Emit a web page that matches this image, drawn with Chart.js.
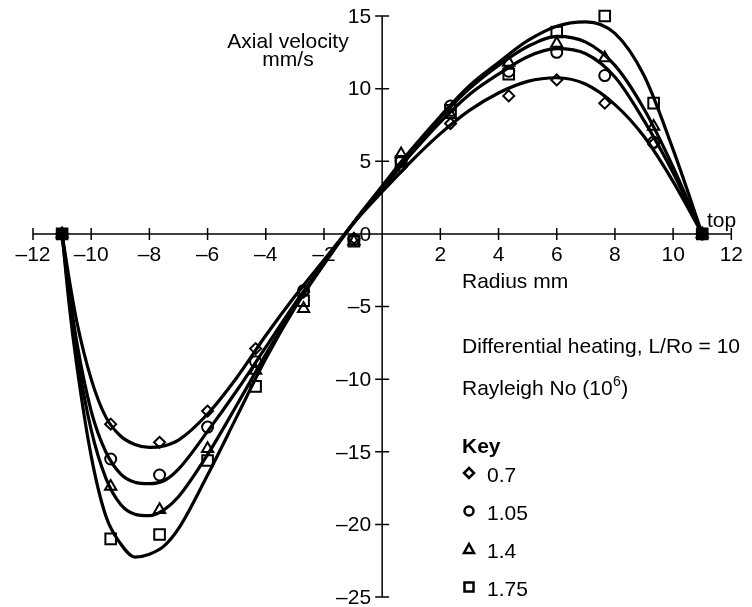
<!DOCTYPE html>
<html>
<head>
<meta charset="utf-8">
<script src="https://cdn.jsdelivr.net/npm/chart.js@4.4.1/dist/chart.umd.min.js"></script>
<style>
html, body { margin: 0; padding: 0; background: #fff; }
</style>
</head>
<body>
<canvas id="velocityChart" width="752" height="607"></canvas>
<script>
// measured radii (mm) of the data points
const radiusPts = [-11, -9.33, -7.65, -6.0, -4.35, -2.7, -0.97, 0.65, 2.35, 4.35, 6.0, 7.65, 9.33, 11];
// axial velocity (mm/s) for each Rayleigh number (10^6)
const vel07  = [0, -13.1, -14.35, -12.2, -7.9, -4.0, -0.3, 4.6, 7.6, 9.5, 10.6, 9.0, 6.2, 0];
const vel105 = [0, -15.5, -16.6, -13.3, -8.8, -3.9, -0.4, 5.0, 8.8, 11.2, 12.5, 10.9, 6.3, 0];
const vel14  = [0, -17.4, -19.0, -14.8, -9.4, -5.15, -0.5, 5.5, 8.2, 11.8, 13.1, 12.1, 7.4, 0];
const vel175 = [0, -21.0, -20.7, -15.6, -10.5, -4.6, -0.5, 5.0, 8.5, 11.0, 13.9, 15.0, 9.0, 0];

// fitted curves
const curveX   = [-11, -10.75, -10.5, -10, -9.5, -9, -8.5, -8, -7.5, -7, -6, -5, -4, -3, -2, -1, 0, 1, 2, 3, 4, 5, 6, 7, 8, 9, 10, 11];
const curve07  = [0, -3.2, -6.0, -10.0, -12.6, -13.9, -14.5, -14.7, -14.6, -14.2, -12.4, -9.9, -7.0, -4.3, -1.8, 0.7, 2.9, 5.0, 6.9, 8.5, 9.7, 10.5, 10.75, 10.3, 8.9, 6.7, 3.6, 0];
const curve105 = [0, -4.0, -7.4, -12.2, -15.0, -16.5, -17.1, -17.2, -17.0, -16.2, -13.6, -10.8, -7.8, -4.8, -2.0, 0.7, 3.1, 5.5, 7.7, 9.6, 11.0, 12.2, 12.75, 12.4, 10.8, 7.8, 4.2, 0];
const curve14  = [0, -4.5, -8.2, -13.5, -16.8, -18.6, -19.3, -19.4, -19.0, -18.1, -15.2, -11.8, -8.3, -5.0, -2.0, 0.7, 3.2, 5.7, 8.0, 10.0, 11.6, 12.9, 13.6, 13.2, 11.6, 8.6, 4.6, 0];
const curve175 = [0, -5.0, -9.0, -15.3, -19.4, -21.3, -22.25, -22.05, -21.5, -20.3, -16.6, -12.6, -8.6, -5.1, -2.1, 0.75, 3.3, 5.8, 8.1, 10.2, 11.8, 13.3, 14.3, 14.6, 13.8, 10.9, 5.8, 0];

const keyLabels = ['0.7', '1.05', '1.4', '1.75'];
const keyStyles = ['rectRot', 'circle', 'triangle', 'rect'];

const FONT = '"Liberation Sans", Arial, Helvetica, sans-serif';
Chart.defaults.font.family = FONT;
Chart.defaults.font.size = 21;
Chart.defaults.color = '#000';

function dash(v) {
    return String(v).replace('-', '\u2013');
}

function markers(label, vals, style, radius, fillEnds) {
    return {
        type: 'scatter',
        label: label,
        data: radiusPts.map((r, i) => ({x: r, y: vals[i]})),
        pointStyle: style,
        pointRadius: radius,
        borderColor: '#000',
        borderWidth: 2,
        backgroundColor: (c) => (fillEnds && c.raw && Math.abs(c.raw.x) === 11) ? '#000' : 'rgba(0,0,0,0)',
        showLine: false,
        clip: false,
        order: 0
    };
}

function curve(label, vals) {
    return {
        type: 'line',
        label: label,
        data: curveX.map((r, i) => ({x: r, y: vals[i]})),
        borderColor: '#000',
        borderWidth: 3.2,
        pointRadius: 0,
        fill: false,
        cubicInterpolationMode: 'monotone',
        order: 1
    };
}

const axesAndText = {
    id: 'axesAndText',
    beforeDatasetsDraw(chart) {
        const {ctx, scales: {x, y}} = chart;
        const x0 = x.getPixelForValue(0), y0 = y.getPixelForValue(0);
        ctx.save();
        ctx.strokeStyle = '#000';
        ctx.lineWidth = 1.5;
        ctx.beginPath();
        ctx.moveTo(x.getPixelForValue(-12), y0);
        ctx.lineTo(x.getPixelForValue(12), y0);
        ctx.moveTo(x0, y.getPixelForValue(15));
        ctx.lineTo(x0, y.getPixelForValue(-25));
        x.ticks.forEach(t => {
            if (t.value === 0) return;
            const px = x.getPixelForValue(t.value);
            ctx.moveTo(px, y0 - 6);
            ctx.lineTo(px, y0 + 6);
        });
        y.ticks.forEach(t => {
            if (t.value === 0) return;
            const py = y.getPixelForValue(t.value);
            ctx.moveTo(x0 - 7, py);
            ctx.lineTo(x0 + 7, py);
        });
        ctx.stroke();

        // y tick labels, right aligned left of the axis
        ctx.fillStyle = '#000';
        ctx.font = '21px ' + FONT;
        ctx.textAlign = 'right';
        ctx.textBaseline = 'middle';
        y.ticks.forEach(t => {
            ctx.fillText(dash(t.value), x0 - 11, y.getPixelForValue(t.value) + 1);
        });
        ctx.restore();
    },
    afterDraw(chart) {
        const ctx = chart.ctx;
        ctx.save();
        ctx.fillStyle = '#000';
        ctx.font = '21px ' + FONT;
        ctx.textBaseline = 'alphabetic';
        ctx.textAlign = 'center';
        ctx.fillText('Axial velocity', 288, 48);
        ctx.fillText('mm/s', 288, 66);
        ctx.textAlign = 'left';
        ctx.fillText('top', 707, 227);
        ctx.fillText('Radius mm', 462, 288);
        ctx.fillText('Differential heating, L/Ro = 10', 462, 353);
        let tx = 462;
        ctx.fillText('Rayleigh No (10', tx, 395);
        tx += ctx.measureText('Rayleigh No (10').width;
        ctx.font = '14px ' + FONT;
        ctx.fillText('6', tx + 0.5, 386);
        tx += ctx.measureText('6').width + 1;
        ctx.font = '21px ' + FONT;
        ctx.fillText(')', tx, 395);
        ctx.font = 'bold 21px ' + FONT;
        ctx.fillText('Key', 462, 453);

        ctx.font = '21px ' + FONT;
        const rows = [482, 520, 558, 596];
        ctx.lineWidth = 2.5;
        ctx.strokeStyle = '#000';
        keyLabels.forEach((lab, i) => {
            const cx = 469, cy = rows[i] - 9;
            ctx.beginPath();
            if (keyStyles[i] === 'rectRot') {
                ctx.moveTo(cx, cy - 5); ctx.lineTo(cx + 5, cy); ctx.lineTo(cx, cy + 5); ctx.lineTo(cx - 5, cy); ctx.closePath();
            } else if (keyStyles[i] === 'circle') {
                ctx.arc(cx, cy, 4.5, 0, Math.PI * 2);
            } else if (keyStyles[i] === 'triangle') {
                ctx.moveTo(cx, cy - 5); ctx.lineTo(cx + 5, cy + 4); ctx.lineTo(cx - 5, cy + 4); ctx.closePath();
            } else {
                ctx.rect(cx - 4.5, cy - 4.5, 9, 9);
            }
            ctx.stroke();
            ctx.fillText(lab, 487, rows[i]);
        });
        ctx.restore();
    }
};

const ctxV = document.getElementById('velocityChart').getContext('2d');
const velocityChart = new Chart(ctxV, {
    data: {
        datasets: [
            markers('0.7', vel07, 'rectRot', 5.5, false),
            markers('1.05', vel105, 'circle', 5.5, false),
            markers('1.4', vel14, 'triangle', 6.5, false),
            markers('1.75', vel175, 'rect', 7.5, true),
            curve('fit 0.7', curve07),
            curve('fit 1.05', curve105),
            curve('fit 1.4', curve14),
            curve('fit 1.75', curve175)
        ]
    },
    options: {
        responsive: false,
        animation: false,
        events: [],
        layout: {
            padding: {left: 33, right: 16, top: 16, bottom: 10}
        },
        scales: {
            x: {
                type: 'linear',
                position: {y: 0},
                min: -12,
                max: 12,
                grid: {display: false, drawTicks: false},
                border: {display: false},
                ticks: {
                    stepSize: 2,
                    padding: 9,
                    maxRotation: 0,
                    autoSkip: false,
                    callback: (v) => v === 0 ? '' : dash(v)
                }
            },
            y: {
                type: 'linear',
                position: {x: 0},
                min: -25,
                max: 15,
                grid: {display: false, drawTicks: false},
                border: {display: false},
                ticks: {
                    stepSize: 5,
                    autoSkip: false,
                    display: false
                }
            }
        },
        plugins: {
            legend: {display: false},
            tooltip: {enabled: false}
        }
    },
    plugins: [axesAndText]
});
</script>
</body>
</html>
